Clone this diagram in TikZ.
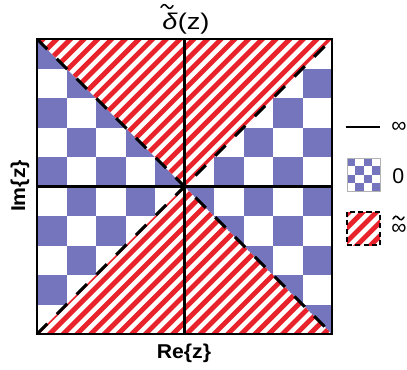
\documentclass[tikz,border=0pt]{standalone}
\usepackage{fontspec}
\setmainfont{Liberation Sans}
\usepackage{graphicx}
\definecolor{chk}{HTML}{7575BD}
\definecolor{strp}{HTML}{E8232B}
\tikzset{
  chkcell/.style={fill=chk},
  stripeline/.style={draw=strp, line width=3.65pt},
  diagdash/.style={line width=2.3pt, dash pattern=on 11pt off 10pt},
  vaxis/.style={line width=2.3pt},
  haxis/.style={line width=1.6pt},
  frame/.style={line width=1.2pt},
  tildemark/.style={line width=1.1pt, line cap=round},
  axlabel/.style={font=\fontsize{15}{17}\selectfont\bfseries, inner sep=0pt},
  leglabel/.style={font=\fontsize{16}{18}\selectfont, inner sep=0pt, anchor=west},
}
\begin{document}
\begin{tikzpicture}[x=0.75pt, y=-0.75pt]
\useasboundingbox (0,0) rectangle (407,369);
% corners and centre
\coordinate (tl) at (37,39);
\coordinate (tr) at (332,39);
\coordinate (bl) at (37,334);
\coordinate (br) at (332,334);
\coordinate (c)  at (184.5,186.5);
\coordinate (tm) at (184.5,39);
\coordinate (bm) at (184.5,334);
\coordinate (lm) at (37,186.5);
\coordinate (rm) at (332,186.5);
% background
\fill[white] (tl) rectangle (br);
% checkerboard
\foreach \i in {0,...,9}{
  \foreach \j in {0,...,9}{
    \pgfmathtruncatemacro\s{mod(\i+\j,2)}
    \ifnum\s=0
      \fill[chkcell] ({37+29.5*\j},{39+29.5*\i}) rectangle ++(29.5,29.5);
    \fi
  }
}
% top striped triangle
\begin{scope}
  \clip (tl) -- (tr) -- (c) -- cycle;
  \fill[white] (tl) -- (tr) -- (c) -- cycle;
  \foreach \k in {0,13.7,...,780}{
    \draw[stripeline] (\k,0) -- ({\k-400},400);
  }
\end{scope}
% bottom striped triangle
\begin{scope}
  \clip (bl) -- (br) -- (c) -- cycle;
  \fill[white] (bl) -- (br) -- (c) -- cycle;
  \foreach \k in {0,13.7,...,780}{
    \draw[stripeline] (\k,0) -- ({\k-400},400);
  }
\end{scope}
% dashed diagonals
\draw[diagdash] (tl) -- (br);
\draw[diagdash] (bl) -- (tr);
% axes
\draw[vaxis] (tm) -- (bm);
\draw[haxis] (lm) -- (rm);
% frame
\draw[frame] (tl) rectangle (br);
% title
\node[inner sep=0pt] (title) at (186,24) {\fontsize{17}{19}\selectfont\scalebox{1.2}[1]{\textit{δ}(z)}};
\coordinate (tA) at (161,7.5);
\coordinate (tB) at (167,6.5);
\coordinate (tC) at (173,5.5);
\draw[tildemark] (tA) .. controls (163,3.8) and (165,3.8) .. (tB) .. controls (169,9.2) and (171,9.2) .. (tC);
% axis labels
\node[axlabel] (re) at (184,353) {\scalebox{1.06}[1]{Re\{z\}}};
\node[axlabel, rotate=90] (im) at (20,186) {\scalebox{1.06}[1]{Im\{z\}}};
% legend: line
\coordinate (la) at (346,127);
\coordinate (lb) at (380,127);
\draw[line width=2pt] (la) -- (lb);
\node[leglabel] (linf) at (391,127) {∞};
% legend: checkerboard
\fill[white] (347,158) rectangle (380,191);
\foreach \i in {0,...,3}{
  \foreach \j in {0,...,3}{
    \pgfmathtruncatemacro\s{mod(\i+\j,2)}
    \ifnum\s=0
      \fill[chkcell] ({347+8.25*\j},{158+8.25*\i}) rectangle ++(8.25,8.25);
    \fi
  }
}
\draw[gray!60, line width=0.5pt] (347,158) rectangle (380,191);
\node[leglabel] (lzero) at (392,176) {0};
% legend: stripes
\begin{scope}
  \clip (347,212) rectangle (380,245);
  \fill[white] (347,212) rectangle (380,245);
  \foreach \k in {520,533.7,...,650}{
    \draw[stripeline] (\k,0) -- ({\k-400},400);
  }
\end{scope}
\draw[line width=2.2pt, dash pattern=on 3.8pt off 2.4pt] (347,212) rectangle (380,245);
\node[leglabel] (lstr) at (391,229) {∞};
\coordinate (sA) at (393,219);
\coordinate (sB) at (398.5,218);
\coordinate (sC) at (404,217);
\draw[tildemark] (sA) .. controls (395,215.5) and (396.5,215.5) .. (sB) .. controls (400.5,220.5) and (402,220.5) .. (sC);
\end{tikzpicture}
\end{document}
